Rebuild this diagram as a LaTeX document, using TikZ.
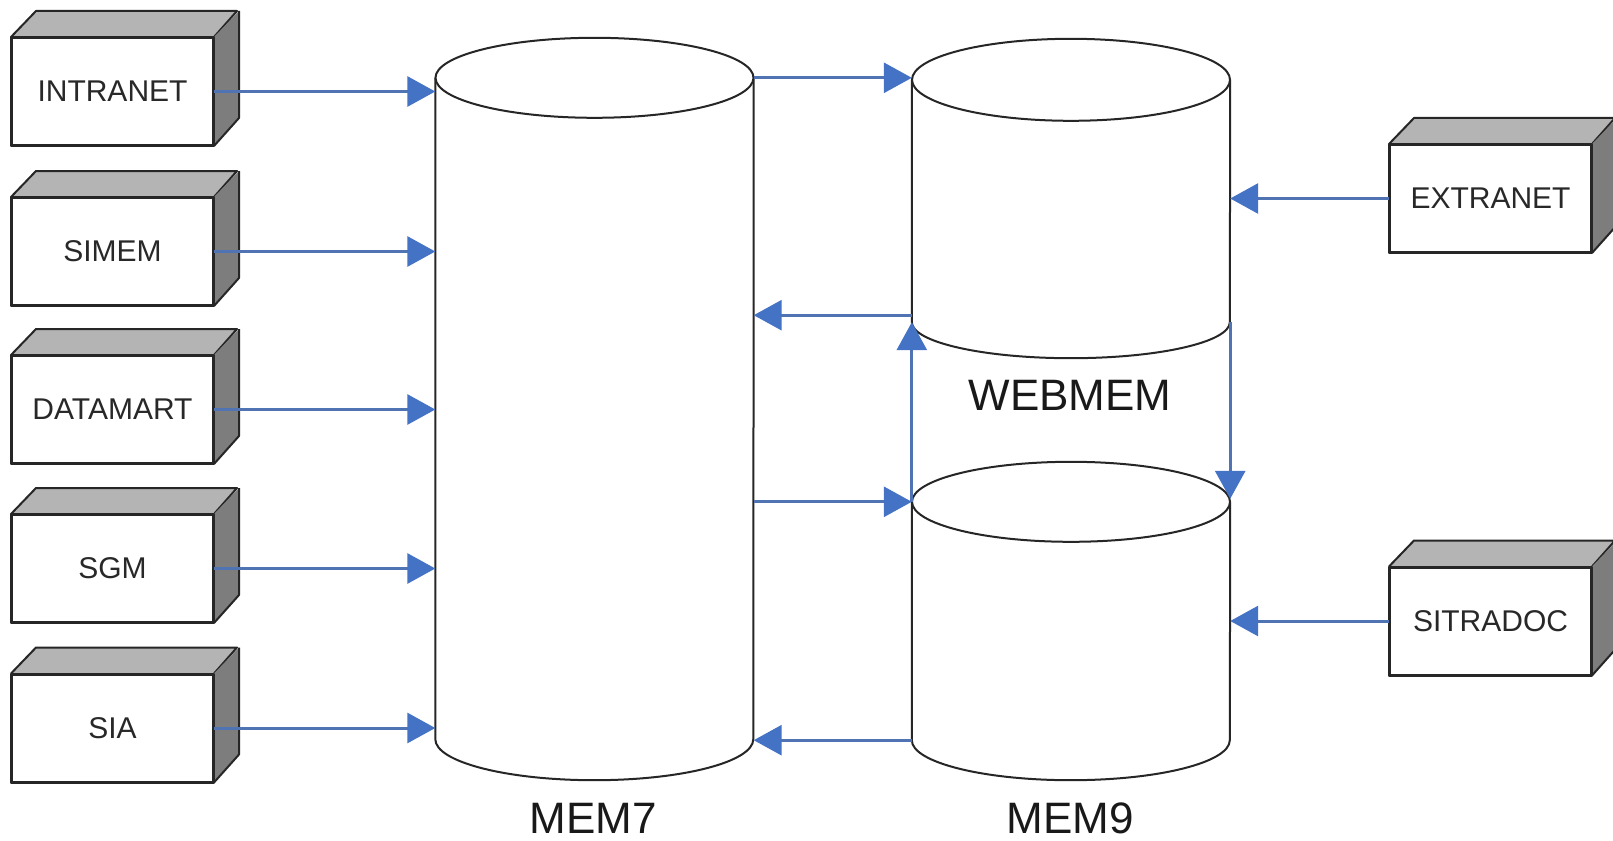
\documentclass[tikz,border=0pt]{standalone}
\usepackage{fontspec}
\setmainfont{Liberation Sans}
\usetikzlibrary{arrows.meta}
\definecolor{arrblue}{RGB}{68,114,196}
\definecolor{linblue}{RGB}{80,115,180}
\definecolor{topgrey}{RGB}{180,180,180}
\definecolor{sidegrey}{RGB}{125,125,125}
\definecolor{txt}{RGB}{40,40,40}
\begin{document}
\begin{tikzpicture}[x=1pt,y=-1pt,
  srcbox/.style={draw=black!85,line width=2pt,fill=white,minimum width=201pt,minimum height=107pt,inner sep=0pt,
    font=\fontsize{30}{34}\selectfont,text=txt},
  face/.style={draw=black!85,line width=2pt,line join=round},
  cyl/.style={draw=black!85,line width=2pt,fill=white},
  cylbody/.style={inner sep=0pt,minimum width=318pt},
  biglab/.style={font=\fontsize{44}{50}\selectfont,text=black!90},
  arr/.style={draw=linblue,line width=3pt,-{Triangle[length=28pt,width=30pt,color=arrblue]}}
]
\useasboundingbox (0,0) rectangle (1613,840);

% ---- source boxes ----
\foreach \n/\t/\cx/\cy in {intranet/INTRANET/112.5/91.5, simem/SIMEM/112.5/251.5, datamart/DATAMART/112.5/409.5,
                          sgm/SGM/112.5/568.5, sia/SIA/112.5/728, extranet/EXTRANET/1490.5/198.5, sitradoc/SITRADOC/1490.5/621}{
  \node[srcbox] (\n) at (\cx,\cy) {\t};
  \fill[topgrey] (\n.north west) -- ++(25,-26) -- ++(201,0) -- (\n.north east) -- cycle;
  \draw[face] (\n.north west) -- ++(25,-26) -- ++(201,0) -- (\n.north east);
  \fill[sidegrey] (\n.north east) -- ++(25,-26) -- ++(0,107) -- (\n.south east) -- cycle;
  \draw[face] (\n.north east) ++(25,-26) -- ++(0,107) -- (\n.south east);
  \draw[face] (\n.north west) rectangle (\n.south east);
}

% ---- cylinders (bodies as nodes spanning the side walls) ----
\node[cylbody,minimum height=661pt] (mem7) at (594.5,408.5) {};
\node[cylbody,minimum height=242pt] (webmem) at (1071,201) {};
\node[cylbody,minimum height=238pt] (mem9) at (1071,621) {};

\draw[cyl] (mem7.north west) -- (mem7.south west)
  arc[start angle=180,end angle=360,x radius=159pt,y radius=41pt] -- (mem7.north east);
\draw[cyl] (mem7.north) ellipse[x radius=159pt,y radius=40pt];

\draw[cyl] (webmem.north west) -- (webmem.south west)
  arc[start angle=180,end angle=360,x radius=159pt,y radius=36pt] -- (webmem.north east);
\draw[cyl] (webmem.north) ellipse[x radius=159pt,y radius=41pt];

\draw[cyl] (mem9.north west) -- (mem9.south west)
  arc[start angle=180,end angle=360,x radius=159pt,y radius=40pt] -- (mem9.north east);
\draw[cyl] (mem9.north) ellipse[x radius=159pt,y radius=40pt];

% ---- labels ----
\node[biglab] (lmem7) at (593,818) {MEM7};
\node[biglab] (lmem9) at (1070,818) {MEM9};
\node[biglab] (lweb) at (1070,395) {WEBMEM};

% ---- connectors ----
\foreach \n in {intranet,simem,datamart,sgm,sia}{
  \draw[arr] (\n.east) -- (\n.east -| mem7.west);
}
\draw[arr] (mem7.north east) -- (mem7.north east -| webmem.west);
\draw[arr] ([yshift=7pt]webmem.south west) -- ([yshift=7pt]webmem.south west -| mem7.east);
\draw[arr] (mem9.north west) -- (webmem.south west);
\draw[arr] (webmem.south east) -- ([yshift=3pt]mem9.north east);
\draw[arr] (mem9.north west -| mem7.east) -- (mem9.north west);
\draw[arr] (mem9.south west) -- (mem9.south west -| mem7.east);
\draw[arr] (extranet.west) -- (extranet.west -| webmem.east);
\draw[arr] (sitradoc.west) -- (sitradoc.west -| mem9.east);
\end{tikzpicture}
\end{document}
